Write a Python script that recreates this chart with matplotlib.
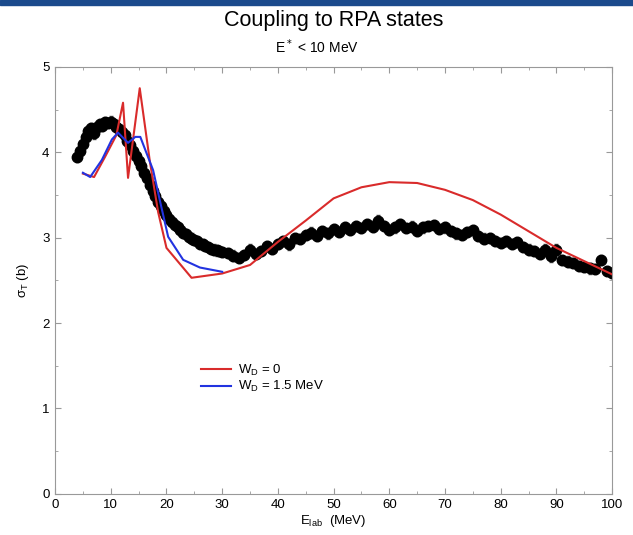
import matplotlib
matplotlib.use("Agg")
from matplotlib import pyplot as plt
from matplotlib.patches import Rectangle
import numpy as np

plt.rcParams['font.family'] = ['Liberation Sans', 'DejaVu Sans']

# measured total cross section (black points)
exp_e = [4.0, 4.5, 5.0, 5.5, 6.0, 6.5, 7.0, 7.5, 8.0, 8.5, 9.0, 9.5, 10.0, 10.5,
         11.0, 11.5, 12.0, 12.5, 13.0, 13.5, 14.0, 14.5, 15.0, 15.5, 16.0, 16.5,
         17.0, 17.5, 18.0, 18.5, 19.0, 19.5, 20.0, 20.5, 21.0, 21.5, 22.0, 22.5,
         23.0, 23.5, 24.0, 24.5, 25.0, 25.5, 26.0, 26.5, 27.0, 27.5, 28.0, 28.5,
         29.0, 29.5, 30.0,
         31, 32, 33, 34, 35, 36, 37, 38, 39, 40, 41, 42, 43, 44, 45, 46, 47, 48,
         49, 50, 51, 52, 53, 54, 55, 56, 57, 58, 59, 60, 61, 62, 63, 64, 65, 66,
         67, 68, 69, 70, 71, 72, 73, 74, 75, 76, 77, 78, 79, 80, 81, 82, 83, 84,
         85, 86, 87, 88, 89, 90, 91, 92, 93, 94, 95, 96, 97, 98, 99, 100]
exp_sig = [3.95, 4.02, 4.10, 4.18, 4.25, 4.28, 4.22, 4.30, 4.33, 4.31, 4.35, 4.34,
           4.36, 4.33, 4.30, 4.27, 4.24, 4.20, 4.13, 4.08, 4.02, 3.96, 3.90, 3.84,
           3.76, 3.70, 3.62, 3.55, 3.49, 3.42, 3.37, 3.31, 3.26, 3.22, 3.18, 3.15,
           3.12, 3.09, 3.06, 3.04, 3.01, 2.99, 2.97, 2.96, 2.93, 2.92, 2.90, 2.89,
           2.87, 2.86, 2.85, 2.84, 2.83,
           2.82, 2.79, 2.76, 2.80, 2.86, 2.81, 2.84, 2.90, 2.87, 2.93, 2.96, 2.92,
           3.00, 2.98, 3.03, 3.06, 3.02, 3.08, 3.05, 3.10, 3.07, 3.12, 3.09, 3.14,
           3.11, 3.16, 3.13, 3.20, 3.14, 3.09, 3.12, 3.16, 3.11, 3.13, 3.08, 3.12,
           3.14, 3.15, 3.10, 3.12, 3.08, 3.05, 3.03, 3.07, 3.09, 3.02, 2.99, 3.00,
           2.96, 2.94, 2.96, 2.93, 2.95, 2.89, 2.86, 2.84, 2.81, 2.86, 2.78, 2.86,
           2.74, 2.72, 2.70, 2.67, 2.66, 2.64, 2.63, 2.74, 2.61, 2.59]

# calculation W_D = 0 (red)
red_e = [5, 7, 9, 11, 12.2, 13.1, 15.2, 17, 18.5, 20, 24.5, 30, 35, 40, 45,
         50, 55, 60, 65, 70, 75, 80, 90, 100]
red_sig = [3.75, 3.71, 3.95, 4.2, 4.58, 3.70, 4.75, 3.9, 3.3, 2.88, 2.53, 2.58,
           2.68, 2.95, 3.2, 3.46, 3.59, 3.65, 3.64, 3.56, 3.44, 3.27, 2.88, 2.57]

# calculation W_D = 1.5 MeV (blue)
blue_e = [5, 6.3, 8.4, 10.2, 11.3, 13.1, 14.4, 15.3, 17.6, 18.9, 20.3, 23, 26, 30]
blue_sig = [3.76, 3.71, 3.91, 4.15, 4.23, 4.11, 4.18, 4.18, 3.79, 3.41, 3.01,
            2.74, 2.65, 2.60]

fig = plt.figure(figsize=(6.33, 5.35), dpi=100)
fig.patches.append(Rectangle((0, 1 - 5 / 535), 1, 5 / 535, transform=fig.transFigure,
                             color='#1b4a8c', zorder=0))
ax = fig.add_axes([0.087, 0.077, 0.880, 0.798])

ax.errorbar(exp_e, exp_sig, yerr=0.06, xerr=0.4, fmt='o', ms=7.5, color='black',
            ecolor='#444444', elinewidth=0.8, capsize=1.5, zorder=2)
ax.plot(red_e, red_sig, color='#d92b2b', lw=1.5, label='W$_\\mathregular{D}$ = 0', zorder=3)
ax.plot(blue_e, blue_sig, color='#2233e0', lw=1.5, label='W$_\\mathregular{D}$ = 1.5 MeV', zorder=3)

ax.set_xlim(0, 100)
ax.set_ylim(0, 5)
ax.set_xticks(np.arange(0, 101, 10))
ax.set_xticks(np.arange(0, 101, 5), minor=True)
ax.set_yticks(np.arange(0, 6, 1))
ax.set_yticks(np.arange(0, 5.1, 0.5), minor=True)
ax.tick_params(which='both', direction='in', top=True, right=True, color='#999999',
               labelsize=9.5, pad=4)
ax.tick_params(which='major', length=4)
ax.tick_params(which='minor', length=2)
for s in ax.spines.values():
    s.set_color('#999999')

ax.set_xlabel('E$_\\mathregular{lab}$  (MeV)', fontsize=9.5, labelpad=1)
ax.set_ylabel('σ$_\\mathregular{T}$ (b)', fontsize=9.5, labelpad=8)

ax.legend(loc='center left', bbox_to_anchor=(0.24, 0.27), frameon=False,
          fontsize=9.5, handlelength=2.3, labelspacing=0.1, handletextpad=0.5)

fig.text(0.527, 0.962, 'Coupling to RPA states', ha='center', va='center', fontsize=15.5)
fig.text(0.5, 0.912, 'E$^*$ < 10 MeV', ha='center', va='center', fontsize=10)

fig.savefig('out.png', dpi=100)
